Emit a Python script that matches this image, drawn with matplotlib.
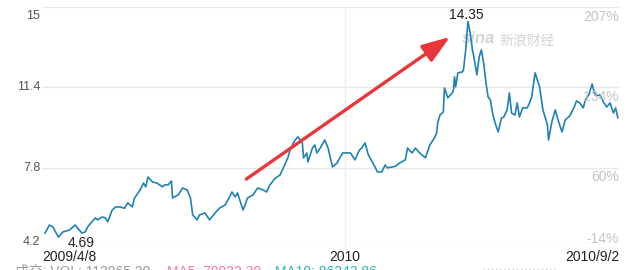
import numpy as np
import matplotlib
matplotlib.use("Agg")
import matplotlib.pyplot as plt
import matplotlib.dates as mdates
from matplotlib.patches import FancyArrowPatch

# ---- data -------------------------------------------------------------
start_date = "2009-04-08"
days_since_start = [
    0, 4, 7, 12, 16, 22, 27, 29, 33, 36, 38, 42, 45, 47, 51, 54, 56, 60, 63, 67,
    71, 74, 78, 80, 85, 88, 90, 92, 96, 100, 105, 107, 110, 113, 114, 119, 123, 127, 130, 132,
    136, 138, 143, 147, 152, 156, 161, 165, 167, 170, 172, 177, 181, 186, 190, 195, 198, 201, 206, 210,
    213, 217, 219, 222, 225, 226, 230, 231, 234, 235, 239, 241, 243, 246, 250, 253, 255, 257, 261, 264,
    266, 273, 277, 281, 283, 286, 289, 295, 297, 301, 304, 306, 310, 313, 317, 322, 324, 328, 331, 334,
    340, 344, 348, 350, 351, 353, 356, 357, 360, 364, 365, 366, 367, 369, 373, 374, 376, 378, 380, 382,
    383, 386, 388, 390, 392, 394, 396, 398, 400, 402, 405, 408, 410, 413, 415, 417, 420, 422, 424, 427,
    431, 433, 435, 438, 440, 442, 445, 449, 450, 453, 456, 458, 462, 465, 469, 473, 475, 478, 481, 483,
    486, 489, 491, 493, 496, 499, 502, 505, 508, 510, 512,
]
close_price = [
    4.87, 5.23, 5.14, 4.69, 4.92, 5.01, 5.23, 5.10, 4.87, 4.92, 5.14, 5.37, 5.55, 5.46, 5.59, 5.55, 5.37, 5.90, 6.04, 6.04,
    5.98, 6.22, 6.04, 6.44, 6.80, 7.11, 6.94, 7.38, 7.16, 7.11, 6.94, 7.03, 7.03, 7.20, 6.44, 6.58, 6.89, 6.80, 6.44, 5.68,
    5.46, 5.68, 5.77, 5.46, 5.77, 5.99, 6.13, 6.49, 6.71, 6.49, 6.67, 5.90, 6.44, 6.58, 6.89, 6.80, 6.71, 7.03, 7.34, 7.47,
    7.79, 8.24, 8.59, 8.91, 9.13, 9.18, 8.91, 8.24, 8.46, 8.06, 8.68, 8.82, 8.46, 8.68, 9.04, 8.68, 8.24, 7.83, 8.01, 8.28,
    8.46, 8.46, 8.15, 8.59, 8.68, 8.91, 8.37, 7.83, 7.61, 7.61, 7.92, 7.79, 7.83, 7.86, 8.01, 8.15, 8.68, 8.46, 8.68, 8.50,
    8.24, 8.82, 9.13, 9.36, 9.81, 10.16, 10.30, 11.37, 10.93, 11.15, 11.28, 11.87, 11.42, 12.05, 12.09, 12.18, 13.08, 14.35, 13.84, 13.08,
    12.85, 11.96, 12.76, 13.08, 12.50, 11.64, 10.97, 10.84, 10.25, 9.85, 9.40, 10.03, 10.07, 10.39, 11.15, 10.25, 10.16, 10.70, 10.07, 10.48,
    10.48, 10.70, 10.97, 12.05, 11.73, 11.42, 10.39, 9.72, 9.04, 9.85, 10.39, 10.03, 9.40, 9.94, 10.12, 10.52, 10.79, 10.70, 10.48, 10.84,
    11.06, 11.55, 11.15, 11.02, 11.06, 10.75, 10.52, 10.70, 10.25, 10.48, 10.03,
]
left_ticks = [15, 11.4, 7.8, 4.2]
left_tick_labels = ["15", "11.4", "7.8", "4.2"]
right_tick_labels = ["207%", "134%", "60%", "-14%"]
x_labels = ["2009/4/8", "2010", "2010/9/2"]
x_mid_date = "2010-01-01"
max_label = "14.35"
min_label = "4.69"
legend_parts = ["成交: VOL: 112965.20", "MA5: 79922.30", "MA10: 86243.86"]
arrow_from = (180, 7.29)   # (days since start, price)
arrow_to = (362, 13.66)

# ---- figure -----------------------------------------------------------
W, H = 630, 270
fig = plt.figure(figsize=(W / 100, H / 100), dpi=100)
fig.patch.set_facecolor("white")
ax = fig.add_axes([42 / W, 22 / H, (619 - 42) / W, (248 - 7) / H])
ax.set_facecolor("white")

base = np.datetime64(start_date)
dates = base + np.array(days_since_start).astype("timedelta64[D]")
xd = mdates.date2num(dates.astype("datetime64[ms]").astype(object))
xs = mdates.date2num(base.astype("datetime64[ms]").astype(object))

ax.set_xlim(xd[0] - 2.7, xd[-1] + 1.0)
ax.set_ylim(4.2, 15)

FONT = ["Liberation Sans", "Noto Sans CJK SC", "DejaVu Sans"]

for v in left_ticks:
    ax.axhline(v, color="#e8e8e8", lw=1.0, zorder=0)
xm = mdates.date2num(np.datetime64(x_mid_date).astype("datetime64[ms]").astype(object))
ax.axvline(xm, color="#ececec", lw=1.0, zorder=0)

for s in ax.spines.values():
    s.set_visible(False)
ax.set_xticks([])
ax.set_yticks([])

# watermark
ax.text(0.728, 0.87, "sina", transform=ax.transAxes, fontsize=12, fontweight="bold",
        style="italic", color="#d4d4d4", family=FONT, ha="left", va="center", zorder=1)
ax.text(0.792, 0.86, "新浪财经", transform=ax.transAxes, fontsize=10, style="italic",
        color="#d4d4d4", family=["Noto Sans CJK SC"], ha="left", va="center", zorder=1)

ax.plot(xd, close_price, color="#1f82b6", lw=1.2, zorder=3, solid_joinstyle="round")

# left labels
vas = ["top", "center", "center", "bottom"]
for v, lab, va in zip(left_ticks, left_tick_labels, vas):
    ax.text(-0.003, v if va != "top" else v - 0.15, lab, transform=ax.get_yaxis_transform(),
            ha="right", va=va, fontsize=9, color="#555555", family=FONT)

# right labels
rvas = ["top", "top", "top", "bottom"]
for v, lab, va in zip(left_ticks, right_tick_labels, rvas):
    off = -0.12 if va == "top" else 0.1
    ax.text(1.0, v + off, lab, transform=ax.get_yaxis_transform(), ha="right", va=va,
            fontsize=10, color="#c4c4c4", family=FONT)

# x labels
ax.text(0.0, -0.008, x_labels[0], transform=ax.transAxes, ha="left", va="top",
        fontsize=10, color="#222222", family=FONT)
ax.text(xm, -0.008, x_labels[1], transform=ax.get_xaxis_transform(), ha="center", va="top",
        fontsize=10, color="#222222", family=FONT)
ax.text(1.0, -0.008, x_labels[2], transform=ax.transAxes, ha="right", va="top",
        fontsize=10, color="#222222", family=FONT)

# max / min labels
imax = int(np.argmax(close_price))
imin = int(np.argmin(close_price))
ax.annotate(max_label, (xd[imax], close_price[imax]), xytext=(-1, 0), textcoords="offset points",
            ha="center", va="bottom", fontsize=10, color="#222222", family=FONT)
ax.annotate(min_label, (xd[imin], close_price[imin]), xytext=(16, 1), textcoords="offset points",
            ha="center", va="top", fontsize=10, color="#222222", family=FONT)

# red arrow
arr = FancyArrowPatch((xs + arrow_from[0], arrow_from[1]), (xs + arrow_to[0], arrow_to[1]),
                      arrowstyle="-|>,head_length=0.85,head_width=0.3", mutation_scale=20,
                      color="#e8363b", lw=2.4, zorder=4, shrinkA=0, shrinkB=0)
ax.add_patch(arr)

# bottom legend strip (partly cut off in the original as well)
colors = ["#9a9a9a", "#f07fa2", "#2bb5b5"]
xpos = [15, 167, 275]
for t, c, x in zip(legend_parts, colors, xpos):
    fig.text(x / W, 5 / H, t, ha="left", va="top", fontsize=10, color=c, family=FONT)
fig.add_artist(plt.Line2D([483 / W, 557 / W], [1 / H, 1 / H], color="#d0d0d0", lw=1.0,
                          ls=(0, (1, 2)), transform=fig.transFigure))

fig.savefig("out.png", dpi=100, facecolor="white")
